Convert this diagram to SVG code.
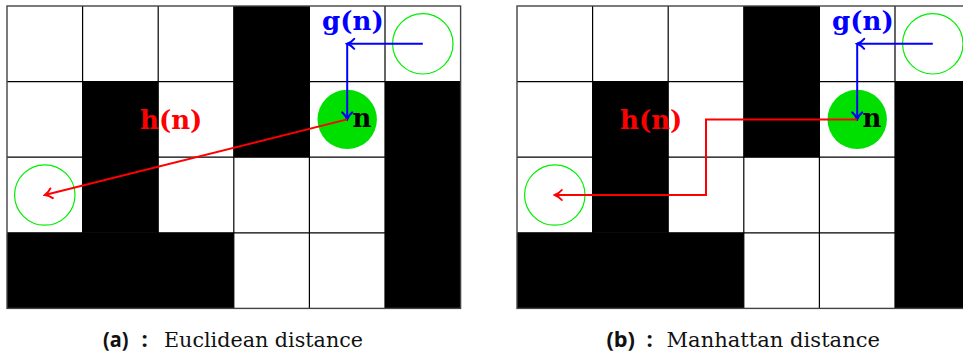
<svg xmlns="http://www.w3.org/2000/svg" xmlns:xlink="http://www.w3.org/1999/xlink" width="963" height="356" viewBox="0 0 963 356">
<style>
.bg{fill:#fff}
.blk{fill:#000}
.gl{stroke:#000;stroke-width:1.2;fill:none}
.border{stroke:#444;stroke-width:1.4;fill:none}
.node{fill:#00e000}
.goal{fill:none;stroke:#00ee00;stroke-width:1.2}
.lbl{font-family:"DejaVu Serif",serif;font-weight:bold;font-size:26px}
.red{stroke:#ff0000;stroke-width:2;fill:none}
.blue{stroke:#0000ff;stroke-width:2;fill:none}
.capb{font-family:"Open Sans","DejaVu Sans",sans-serif;font-weight:bold;font-size:22px;fill:#111}
.capr{font-family:"DejaVu Serif",serif;font-size:20.5px;fill:#111}
</style>
<defs>
<marker id="ar" markerUnits="userSpaceOnUse" viewBox="-10 -7 12 14" refX="0" refY="0" markerWidth="12" markerHeight="14" orient="auto">
<path d="M -7,-5 C -5,-2.5 -1.8,-0.7 0,0 C -1.8,0.7 -5,2.5 -7,5" fill="none" stroke="#ff0000" stroke-width="2" stroke-linecap="round"/>
</marker>
<marker id="ab" markerUnits="userSpaceOnUse" viewBox="-10 -7 12 14" refX="0" refY="0" markerWidth="12" markerHeight="14" orient="auto">
<path d="M -7,-5 C -5,-2.5 -1.8,-0.7 0,0 C -1.8,0.7 -5,2.5 -7,5" fill="none" stroke="#0000ff" stroke-width="2" stroke-linecap="round"/>
</marker>
<g id="grid">
<rect class="bg" x="7" y="6" width="453.6" height="302.4"/>
<rect class="blk" x="233.8" y="6" width="75.6" height="151.2"/>
<rect class="blk" x="82.6" y="81.6" width="75.6" height="151.2"/>
<rect class="blk" x="385" y="81.6" width="75.6" height="226.8"/>
<rect class="blk" x="7" y="232.8" width="226.8" height="75.6"/>
<path class="gl" d="M82.6 6V308.4M158.2 6V308.4M233.8 6V308.4M309.4 6V308.4M385 6V308.4M7 81.6H460.6M7 157.2H460.6M7 232.8H460.6"/>
<rect class="border" x="7" y="6" width="453.6" height="302.4"/>
</g>
</defs>

<g id="panel-a">
<use xlink:href="#grid"/>
<g id="a-goal"><circle class="goal" cx="422.8" cy="43.8" r="30.2"/></g>
<g id="a-start"><circle class="goal" cx="44.8" cy="195" r="30.2"/></g>
<g id="a-node-n"><circle class="node" cx="347.2" cy="119.4" r="29.7"/><text class="lbl" x="352.5" y="127" fill="#000">n</text></g>
<g id="a-connectors">
<line class="blue" x1="422.8" y1="43.8" x2="347.2" y2="43.8" marker-end="url(#ab)"/>
<line class="blue" x1="347.2" y1="43.8" x2="347.2" y2="119.4" marker-end="url(#ab)"/>
<line class="red" x1="347.2" y1="119.4" x2="44.8" y2="195" marker-end="url(#ar)"/>
</g>
<g id="a-labels">
<text class="lbl" x="322" y="29.5" fill="#0000ff">g(n)</text>
<text class="lbl" x="140" y="128.5" fill="#ff0000">h(n)</text>
</g>
<g id="a-caption">
<text class="capb" x="103" y="347" textLength="25.5" lengthAdjust="spacingAndGlyphs">(a)</text>
<text class="capb" x="141.5" y="347">:</text>
<text class="capr" x="164" y="346.5" textLength="199" lengthAdjust="spacingAndGlyphs">Euclidean distance</text>
</g>
</g>

<g id="panel-b">
<use xlink:href="#grid" transform="translate(510,0)"/>
<g id="b-goal"><circle class="goal" cx="932.8" cy="43.8" r="30.2"/></g>
<g id="b-start"><circle class="goal" cx="554.8" cy="195" r="30.2"/></g>
<g id="b-node-n"><circle class="node" cx="857.2" cy="119.4" r="29.7"/><text class="lbl" x="862.5" y="127" fill="#000">n</text></g>
<g id="b-connectors">
<line class="blue" x1="932.8" y1="43.8" x2="857.2" y2="43.8" marker-end="url(#ab)"/>
<line class="blue" x1="857.2" y1="43.8" x2="857.2" y2="119.4" marker-end="url(#ab)"/>
<polyline class="red" points="857.2,119.4 706,119.4 706,195 554.8,195" marker-end="url(#ar)"/>
</g>
<g id="b-labels">
<text class="lbl" x="832" y="29.5" fill="#0000ff">g(n)</text>
<text class="lbl" x="620" y="128.5" fill="#ff0000">h(n)</text>
</g>
<g id="b-caption">
<text class="capb" x="606.5" y="347" textLength="28.5" lengthAdjust="spacingAndGlyphs">(b)</text>
<text class="capb" x="646.5" y="347">:</text>
<text class="capr" x="666.5" y="346.5" textLength="213.5" lengthAdjust="spacingAndGlyphs">Manhattan distance</text>
</g>
</g>
</svg>
